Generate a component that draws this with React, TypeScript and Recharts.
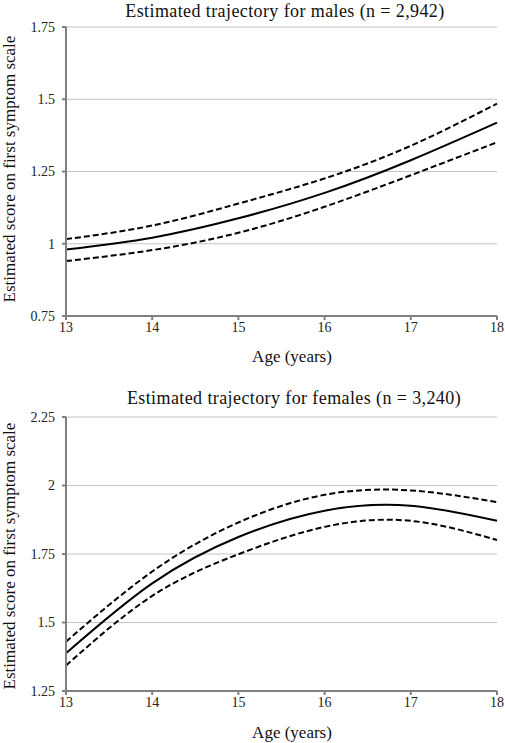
import React from "react";
import {
  LineChart,
  Line,
  XAxis,
  YAxis,
  CartesianGrid,
} from "recharts";

const AGES = [13, 14, 15, 16, 17, 18];

const MALE_MEAN = [0.98, 1.021, 1.088, 1.176, 1.289, 1.419];
const MALE_UPPER = [1.016, 1.063, 1.139, 1.226, 1.339, 1.485];
const MALE_LOWER = [0.94, 0.978, 1.038, 1.128, 1.237, 1.351];

const FEMALE_MEAN = [1.388, 1.643, 1.812, 1.908, 1.926, 1.871];
const FEMALE_UPPER = [1.43, 1.686, 1.865, 1.966, 1.982, 1.939];
const FEMALE_LOWER = [1.343, 1.597, 1.749, 1.849, 1.871, 1.801];

const MALE_TICKS = [0.75, 1, 1.25, 1.5, 1.75];
const FEMALE_TICKS = [1.25, 1.5, 1.75, 2, 2.25];

const FONT = '"Liberation Serif", "Times New Roman", serif';
const AXIS = "#808080";

const buildRows = (mean: number[], upper: number[], lower: number[]) =>
  AGES.map((age, i) => ({ age, mean: mean[i], upper: upper[i], lower: lower[i] }));

type PanelProps = {
  top: number;
  height: number;
  marginTop: number;
  marginBottom: number;
  title: string;
  titleY: number;
  titleX: number;
  xTitleY: number;
  yTitleY: number;
  ticks: number[];
  rows: { age: number; mean: number; upper: number; lower: number }[];
};

function Panel(p: PanelProps) {
  const tickStyle = { fontFamily: FONT, fontSize: 14, fill: "#222" };
  return (
    <div style={{ position: "absolute", left: 0, top: p.top, width: 505, height: p.height }}>
      <LineChart
        width={505}
        height={p.height}
        data={p.rows}
        margin={{ top: p.marginTop, right: 8, left: 26, bottom: p.marginBottom }}
      >
        <CartesianGrid vertical={false} stroke="#c4c4c4" strokeWidth={1} />
        <XAxis
          dataKey="age"
          type="number"
          domain={[13, 18]}
          ticks={AGES}
          height={30}
          tickSize={4}
          tickMargin={2}
          stroke={AXIS}
          strokeWidth={2}
          tick={tickStyle}
        />
        <YAxis
          type="number"
          domain={[p.ticks[0], p.ticks[p.ticks.length - 1]]}
          ticks={p.ticks}
          width={40}
          tickSize={4}
          tickMargin={7}
          stroke={AXIS}
          strokeWidth={2}
          tick={tickStyle}
        />
        <Line
          type="natural"
          dataKey="upper"
          stroke="#000"
          strokeWidth={2}
          strokeDasharray="6 3"
          dot={false}
          isAnimationActive={false}
        />
        <Line
          type="natural"
          dataKey="lower"
          stroke="#000"
          strokeWidth={2}
          strokeDasharray="6 3"
          dot={false}
          isAnimationActive={false}
        />
        <Line
          type="natural"
          dataKey="mean"
          stroke="#000"
          strokeWidth={2}
          dot={false}
          isAnimationActive={false}
        />
      </LineChart>
      <div
        style={{
          position: "absolute",
          left: p.titleX - 220,
          width: 440,
          top: p.titleY - 11,
          textAlign: "center",
          fontFamily: FONT,
          fontSize: 18,
          letterSpacing: 0.4,
          lineHeight: "22px",
          color: "#111",
          whiteSpace: "nowrap",
        }}
      >
        {p.title}
      </div>
      <div
        style={{
          position: "absolute",
          left: 192,
          width: 200,
          top: p.xTitleY - 11,
          textAlign: "center",
          fontFamily: FONT,
          fontSize: 17,
          lineHeight: "22px",
          color: "#111",
        }}
      >
        Age (years)
      </div>
      <div
        style={{
          position: "absolute",
          left: 10 - 160,
          width: 320,
          top: p.yTitleY - 11,
          textAlign: "center",
          fontFamily: FONT,
          fontSize: 17,
          lineHeight: "22px",
          color: "#111",
          whiteSpace: "nowrap",
          transform: "rotate(-90deg)",
        }}
      >
        Estimated score on first symptom scale
      </div>
    </div>
  );
}

export default function App() {
  return (
    <div style={{ position: "absolute", left: 0, top: 0, width: 505, height: 743, background: "#fff" }}>
      <Panel
        top={0}
        height={380}
        marginTop={27}
        marginBottom={34}
        title="Estimated trajectory for males (n = 2,942)"
        titleX={285}
        titleY={11}
        xTitleY={357}
        yTitleY={169}
        ticks={MALE_TICKS}
        rows={buildRows(MALE_MEAN, MALE_UPPER, MALE_LOWER)}
      />
      <Panel
        top={380}
        height={363}
        marginTop={37}
        marginBottom={22}
        title="Estimated trajectory for females (n = 3,240)"
        titleX={294}
        titleY={18}
        xTitleY={353}
        yTitleY={176}
        ticks={FEMALE_TICKS}
        rows={buildRows(FEMALE_MEAN, FEMALE_UPPER, FEMALE_LOWER)}
      />
    </div>
  );
}
